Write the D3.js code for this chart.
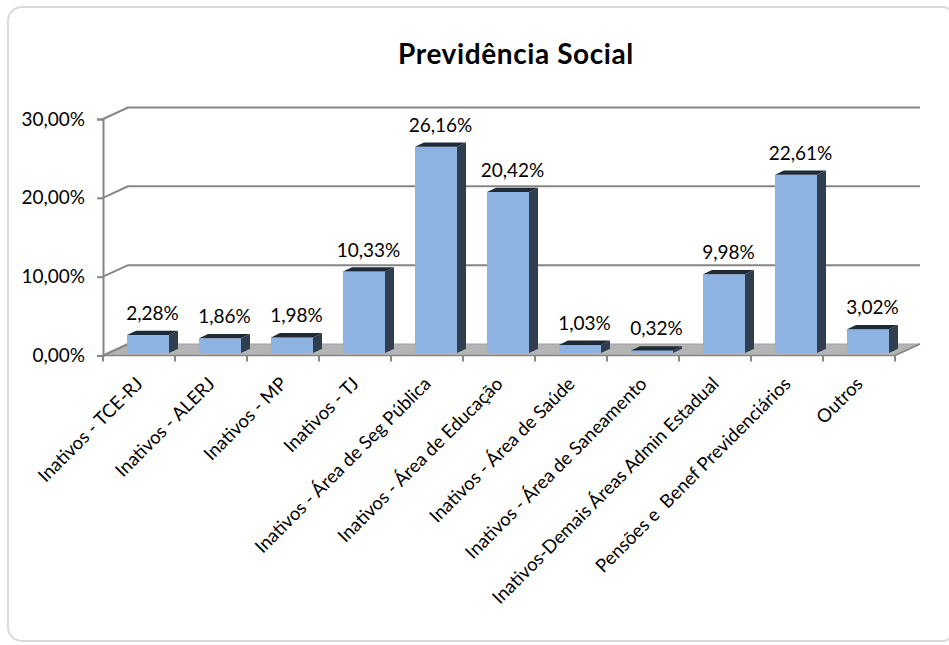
<!DOCTYPE html>
<html>
<head>
<meta charset="utf-8">
<script src="https://cdn.jsdelivr.net/npm/d3@7"></script>
<style>
    body { margin: 0; background: #fff; }
    text { font-family: Lato, "Open Sans", sans-serif; fill: #000; }
</style>
</head>
<body>
<div id="chart"></div>
<script>
const categories = [
    "Inativos - TCE-RJ",
    "Inativos - ALERJ",
    "Inativos - MP",
    "Inativos - TJ",
    "Inativos - Área de Seg Pública",
    "Inativos - Área de Educação",
    "Inativos - Área de Saúde",
    "Inativos - Área de Saneamento",
    "Inativos-Demais Áreas Admin Estadual",
    "Pensões e  Benef Previdenciários",
    "Outros"
];
const values = [2.28, 1.86, 1.98, 10.33, 26.16, 20.42, 1.03, 0.32, 9.98, 22.61, 3.02];
const yTicks = [0, 10, 20, 30];
const title = "Previdência Social";

function makeChart() {
    const width = 949,
        height = 645;

    // 3d offsets: back wall and bar depth
    const wallDx = 25, wallDy = -11.5,
        barDx = 9, barDy = -4.3,
        barLift = 2.5, barWidth = 42, barInset = 24;

    const fmt = v => d3.format('.2f')(v).replace('.', ',') + '%';

    const svg = d3.select('#chart').append('svg')
        .attr('width', width)
        .attr('height', height);

    svg.append('rect')
        .attr('x', 8).attr('y', 7)
        .attr('width', 948).attr('height', 634)
        .attr('rx', 14)
        .attr('fill', '#fff')
        .attr('stroke', '#d9d9d9')
        .attr('stroke-width', 2);

    svg.append('text')
        .attr('x', 516).attr('y', 64)
        .attr('text-anchor', 'middle')
        .style('font-size', '28px')
        .style('font-weight', 'bold')
        .style('letter-spacing', '0.6px')
        .text(title);

    const x = d3.scaleBand()
        .domain(categories)
        .range([103, 895]);

    const y = d3.scaleLinear()
        .domain([0, 30])
        .range([355.5, 119]);

    const x0 = x.range()[0], x1 = x.range()[1];

    // floor
    svg.append('polygon')
        .attr('points', [
            [x0, y(0)], [x1, y(0)],
            [x1 + wallDx, y(0) + wallDy], [x0 + wallDx, y(0) + wallDy]
        ].join(' '))
        .attr('fill', '#b4b4b4')
        .attr('stroke', '#a0a0a0')
        .attr('stroke-width', 1);

    // gridlines on back and side wall
    const grid = svg.append('g')
        .attr('stroke', '#868686')
        .attr('stroke-width', 2)
        .attr('fill', 'none');

    grid.selectAll('path')
        .data(yTicks.filter(d => d > 0))
        .enter().append('path')
        .attr('d', d => 'M' + x0 + ',' + y(d) +
            'L' + (x0 + wallDx) + ',' + (y(d) + wallDy) +
            'L' + (x1 + wallDx) + ',' + (y(d) + wallDy));

    grid.append('path')
        .attr('d', 'M' + x0 + ',' + y(0) + 'L' + (x0 + wallDx) + ',' + (y(0) + wallDy));

    // y axis
    const yAxis = svg.append('g')
        .attr('transform', 'translate(' + x0 + ',0)')
        .call(d3.axisLeft(y).tickValues(yTicks).tickSize(6).tickPadding(12).tickFormat(fmt));
    yAxis.select('.domain').attr('stroke', '#868686').attr('stroke-width', 2);
    yAxis.selectAll('.tick line').attr('stroke', '#868686').attr('stroke-width', 2);
    yAxis.selectAll('.tick text')
        .style('font-size', '19px')
        .style('font-family', 'Lato, sans-serif')
        .attr('fill', '#000');

    // x axis line and ticks
    const xTicks = categories.map(c => x(c)).concat([x1]);
    svg.append('line')
        .attr('x1', x0).attr('x2', x1)
        .attr('y1', y(0)).attr('y2', y(0))
        .attr('stroke', '#868686').attr('stroke-width', 1.5);
    svg.append('line')
        .attr('x1', x1).attr('x2', x1 + wallDx)
        .attr('y1', y(0)).attr('y2', y(0) + wallDy)
        .attr('stroke', '#868686').attr('stroke-width', 1.5);
    svg.append('g').selectAll('line')
        .data(xTicks)
        .enter().append('line')
        .attr('x1', d => d).attr('x2', d => d)
        .attr('y1', y(0)).attr('y2', y(0) + 6)
        .attr('stroke', '#868686').attr('stroke-width', 2);

    svg.append('g').selectAll('text')
        .data(categories)
        .enter().append('text')
        .attr('text-anchor', 'end')
        .style('font-size', '18.5px')
        .style('white-space', 'pre')
        .attr('transform', d => 'translate(' + (x(d) + x.bandwidth() / 2 + 5) + ',' + 385 + ') rotate(-45)')
        .text(d => d);

    // bars
    const data = categories.map((c, i) => ({ name: c, value: values[i] }));
    const bars = svg.append('g').selectAll('g')
        .data(data)
        .enter().append('g');

    const bx = d => x(d.name) + barInset;
    const by = d => y(d.value) - barLift;
    const bb = () => y(0) - barLift;

    bars.append('rect')
        .attr('x', bx)
        .attr('y', by)
        .attr('width', barWidth)
        .attr('height', d => bb() - by(d))
        .attr('fill', '#8db3e2');

    // side face
    bars.append('polygon')
        .attr('points', d => [
            [bx(d) + barWidth, by(d)], [bx(d) + barWidth + barDx, by(d) + barDy],
            [bx(d) + barWidth + barDx, bb() + barDy], [bx(d) + barWidth, bb()]
        ].join(' '))
        .attr('fill', '#2f3d4e');

    // top face
    bars.append('polygon')
        .attr('points', d => [
            [bx(d), by(d)], [bx(d) + barDx, by(d) + barDy],
            [bx(d) + barWidth + barDx, by(d) + barDy], [bx(d) + barWidth, by(d)]
        ].join(' '))
        .attr('fill', '#1f2a37');

    bars.append('text')
        .attr('x', d => bx(d) + (barWidth + barDx) / 2)
        .attr('y', d => by(d) - 15)
        .attr('text-anchor', 'middle')
        .style('font-size', '19px')
        .text(d => fmt(d.value));
}

makeChart();
</script>
</body>
</html>
